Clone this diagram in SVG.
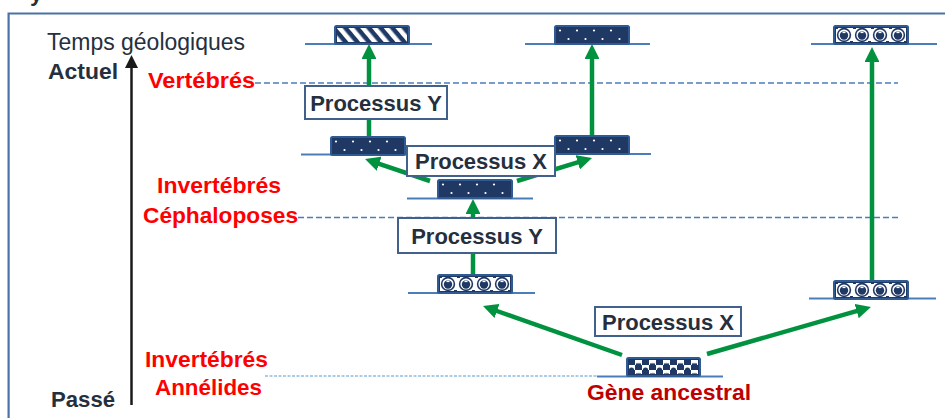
<svg xmlns="http://www.w3.org/2000/svg" width="945" height="418" viewBox="0 0 945 418">
<style>
.lbl{font-family:"Liberation Sans",Arial,sans-serif;font-weight:700;font-size:22.5px}
.red{fill:#ff0000}
.dark{fill:#262f3d}
.title{font-family:"Liberation Sans",Arial,sans-serif;font-size:23px;fill:#262f3d}
.box{fill:#ffffff;stroke:#41618c;stroke-width:2}
.ptxt{font-family:"Liberation Sans",Arial,sans-serif;font-weight:700;font-size:22px;fill:#262f3d;text-anchor:middle}
.bar{fill:#1f3864;stroke:#2f5a92;stroke-width:2}
.base{stroke:#4a7ebb;stroke-width:2}
.arr{stroke:#00923f;stroke-width:4.5;fill:none;marker-end:url(#ah)}
.dash{stroke:#4a7ebb;stroke-width:1.6;stroke-dasharray:6 3;fill:none}
</style>
<defs>
<marker id="ah" viewBox="0 0 10 10" refX="1" refY="5" markerWidth="3.3" markerHeight="3.3" orient="auto" markerUnits="strokeWidth">
<path d="M0,0 L10,5 L0,10 z" fill="#00923f"/>
</marker>
<pattern id="pStripe" width="9" height="9" patternUnits="userSpaceOnUse" patternTransform="rotate(-40)">
<rect width="9" height="9" fill="#1f3864"/><rect width="4.5" height="9" fill="#ffffff"/>
</pattern>
<pattern id="pDots" width="17" height="18" patternUnits="userSpaceOnUse">
<circle cx="5" cy="4.5" r="1.1" fill="#ffffff"/><circle cx="13.5" cy="13" r="1.1" fill="#ffffff"/>
</pattern>
<pattern id="pRing" width="18" height="18" patternUnits="userSpaceOnUse" x="1">
<rect width="18" height="18" fill="#ffffff"/>
<rect x="0" y="0" width="3" height="3" fill="#1f3864"/><rect x="15" y="15" width="3" height="3" fill="#1f3864"/>
<circle cx="9" cy="9" r="7.2" fill="#1f3864"/>
<circle cx="9" cy="9" r="5.6" fill="#ffffff"/>
<circle cx="9" cy="9.5" r="4.2" fill="#1f3864"/>
<rect x="7.5" y="5.6" width="3" height="1.5" fill="#ffffff"/>
</pattern>
<pattern id="pCheck" width="14" height="10" patternUnits="userSpaceOnUse" x="1" y="2">
<rect width="14" height="10" fill="#ffffff"/>
<rect x="0" y="0" width="7" height="5" fill="#1f3864"/><rect x="7" y="5" width="7" height="5" fill="#1f3864"/>
<circle cx="10.5" cy="5" r="2.6" fill="#1f3864"/><circle cx="3.5" cy="10" r="2.6" fill="#1f3864"/>
<rect x="9" y="2.2" width="3" height="1.2" fill="#ffffff"/>
</pattern>
</defs>

<rect width="945" height="418" fill="#ffffff"/>
<text class="lbl dark" x="30" y="0.5">y</text>
<path d="M8.6,418 V13.5 H945" fill="none" stroke="#4a72a6" stroke-width="2.2"/>

<g id="axis">
<line x1="131.5" y1="405" x2="131.5" y2="66" stroke="#1a1a1a" stroke-width="2.5"/>
<polygon points="125,68 131.5,55 138,68" fill="#1a1a1a"/>
<text class="title" x="47" y="50" textLength="198" lengthAdjust="spacingAndGlyphs">Temps géologiques</text>
<text class="lbl dark" x="48" y="79" textLength="70" lengthAdjust="spacingAndGlyphs">Actuel</text>
<text class="lbl dark" x="51" y="407" textLength="64" lengthAdjust="spacingAndGlyphs">Passé</text>
</g>

<g id="levels">
<line class="dash" x1="255" y1="83" x2="898" y2="83"/>
<line class="dash" x1="298" y1="217.5" x2="898" y2="217.5"/>
<line x1="265" y1="376" x2="597" y2="376" stroke="#5b9bd5" stroke-width="1.2" stroke-dasharray="3 1.5"/>
<text class="lbl red" x="148" y="88" textLength="107" lengthAdjust="spacingAndGlyphs">Vertébrés</text>
<text class="lbl red" x="157" y="193" textLength="124" lengthAdjust="spacingAndGlyphs">Invertébrés</text>
<text class="lbl red" x="143" y="223" textLength="155" lengthAdjust="spacingAndGlyphs">Céphaloposes</text>
<text class="lbl red" x="145" y="367" textLength="123" lengthAdjust="spacingAndGlyphs">Invertébrés</text>
<text class="lbl red" x="155" y="395" textLength="107" lengthAdjust="spacingAndGlyphs">Annélides</text>
</g>

<g id="connectors">
<line class="arr" x1="369" y1="137" x2="369" y2="57.4"/>
<line class="arr" x1="592" y1="136" x2="592" y2="57.4"/>
<line class="arr" x1="872" y1="281" x2="872" y2="60.4"/>
<line class="arr" x1="473" y1="275" x2="473" y2="212.4"/>
<line class="arr" x1="430" y1="181" x2="377.7" y2="163.3"/>
<line class="arr" x1="517" y1="181" x2="579.2" y2="161.9"/>
<line class="arr" x1="622" y1="355" x2="495.6" y2="310.5"/>
<line class="arr" x1="707" y1="354" x2="858.1" y2="310.7"/>
</g>

<g id="gene1" transform="translate(335,26)">
<line class="base" x1="-30" y1="18" x2="97" y2="18"/>
<rect class="bar" width="74" height="18" rx="1.5"/>
<rect x="2" y="2" width="70" height="14" fill="url(#pStripe)"/>
</g>
<g id="gene2" transform="translate(555,26)">
<line class="base" x1="-30" y1="18" x2="95" y2="18"/>
<rect class="bar" width="74" height="18" rx="1.5"/>
<rect x="2" y="2" width="70" height="14" fill="url(#pDots)"/>
</g>
<g id="gene3" transform="translate(834,26)">
<line class="base" x1="-23" y1="18" x2="103" y2="18"/>
<rect class="bar" width="74" height="18" rx="1.5"/>
<rect x="2" y="2" width="70" height="14" fill="url(#pRing)"/>
</g>
<g id="gene4" transform="translate(331,137)">
<line class="base" x1="-30" y1="17.5" x2="99" y2="17.5"/>
<rect class="bar" width="74" height="18" rx="1.5"/>
<rect x="2" y="2" width="70" height="14" fill="url(#pDots)"/>
</g>
<g id="gene5" transform="translate(555,136)">
<line class="base" x1="-30" y1="18" x2="96" y2="18"/>
<rect class="bar" width="74" height="18" rx="1.5"/>
<rect x="2" y="2" width="70" height="14" fill="url(#pDots)"/>
</g>
<g id="gene6" transform="translate(438,180)">
<line class="base" x1="-31" y1="18.5" x2="95" y2="18.5"/>
<rect class="bar" width="74" height="18" rx="1.5"/>
<rect x="2" y="2" width="70" height="14" fill="url(#pDots)"/>
</g>
<g id="gene7" transform="translate(438,275)">
<line class="base" x1="-30" y1="18" x2="97" y2="18"/>
<rect class="bar" width="74" height="18" rx="1.5"/>
<rect x="2" y="2" width="70" height="14" fill="url(#pRing)"/>
</g>
<g id="gene8" transform="translate(834,281)">
<line class="base" x1="-25" y1="17.5" x2="102" y2="17.5"/>
<rect class="bar" width="74" height="18" rx="1.5"/>
<rect x="2" y="2" width="70" height="14" fill="url(#pRing)"/>
</g>
<g id="gene9" transform="translate(627,358)">
<line class="base" x1="-30" y1="18.5" x2="96" y2="18.5"/>
<rect class="bar" width="73" height="18" rx="1.5"/>
<rect x="2" y="2" width="69" height="14" fill="url(#pCheck)"/>
<text x="-40" y="42" font-family="Liberation Sans, Arial, sans-serif" font-weight="700" font-size="22.5" fill="#c00000" textLength="164" lengthAdjust="spacingAndGlyphs">Gène ancestral</text>
</g>

<g id="procY1">
<rect class="box" x="305" y="86" width="142" height="33"/>
<text class="ptxt" x="376" y="110.5">Processus Y</text>
</g>
<g id="procX1">
<rect class="box" x="407" y="146" width="148" height="30"/>
<text class="ptxt" x="481" y="169">Processus X</text>
</g>
<g id="procY2">
<rect class="box" x="398" y="218" width="158" height="35"/>
<text class="ptxt" x="477" y="243.5" font-size="23">Processus Y</text>
</g>
<g id="procX2">
<rect class="box" x="595" y="307" width="146" height="29"/>
<text class="ptxt" x="668" y="329.5">Processus X</text>
</g>
</svg>
